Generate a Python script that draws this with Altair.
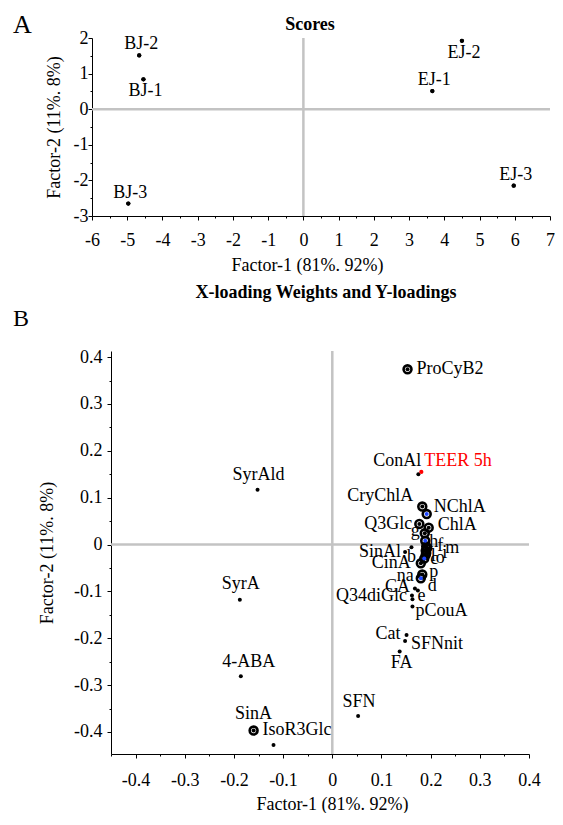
import altair as alt
import pandas as pd

FONT = "Liberation Serif"
BLACK = "#000000"
GREY = "#c3c3c3"
BLUE = "#1e46ff"
RED = "#ff0000"

# ---------------- Panel A : Scores ----------------
score_names = ["BJ-1", "BJ-2", "BJ-3", "EJ-1", "EJ-2", "EJ-3"]
score_f1 = [-4.54, -4.66, -4.97, 3.66, 4.50, 5.97]
score_f2 = [0.84, 1.51, -2.65, 0.51, 1.92, -2.15]
score_side = ["below", "above", "above", "above", "below", "above"]
A_major_x = list(range(-6, 8))
A_major_y = list(range(-3, 3))
A_minor_x = [v + 0.5 for v in range(-6, 7)]
A_minor_y = [v + 0.5 for v in range(-3, 2)]

# ---------------- Panel B : loadings ----------------
load_names = ["ProCyB2", "ConAl", "TEER 5h", "SyrAld", "CryChlA", "NChlA", "Q3Glc",
              "ChlA", "g", "h", "SinAl", "b", "l", "f", "m", "CinA", "c", "o", "i",
              "na", "p", "CA", "d", "Q34diGlc", "e", "pCouA", "Cat", "SFNnit", "FA",
              "SyrA", "4-ABA", "SFN", "SinA", "IsoR3Glc"]
load_f1 = [0.153, 0.175, 0.181, -0.152, 0.183, 0.192, 0.177,
           0.196, 0.188, 0.189, 0.148, 0.161, 0.190, 0.191, 0.193, 0.180, 0.187, 0.190, 0.191,
           0.180, 0.183, 0.168, 0.174, 0.162, 0.163, 0.163, 0.151, 0.148, 0.137,
           -0.188, -0.186, 0.0525, -0.160, -0.1195]
load_f2 = [0.374, 0.150, 0.155, 0.117, 0.081, 0.065, 0.044,
           0.036, 0.024, 0.008, -0.016, -0.006, -0.013, -0.004, -0.008, -0.040, -0.030, -0.022, -0.018,
           -0.072, -0.064, -0.094, -0.098, -0.109, -0.117, -0.132, -0.193, -0.206, -0.228,
           -0.118, -0.281, -0.366, -0.397, -0.428]
load_kind = ["ring", "dot", "red", "dot", "ring", "ringblue", "ring",
             "ring", "ring", "ringblue", "dot", "dot", "ring", "ring", "ring", "ring", "ringblue", "ring", "ring",
             "ringblue", "ring", "dot", "dot", "dot", "dot", "dot", "dot", "dot", "dot",
             "dot", "dot", "dot", "ring", "dot"]
B_major_x = [round(v * 0.1, 1) for v in range(-4, 5)]
B_major_y = [round(v * 0.1, 1) for v in range(-4, 5)]
B_minor_x = [round(v * 0.1 + 0.05, 2) for v in range(-5, 4)]
B_minor_y = [round(v * 0.1 + 0.05, 2) for v in range(-5, 4)]

# label placement styles (align, dx, dy) relative to each point
PLACE_A = {"above": ("center", 2, -11), "below": ("center", 2, 12)}
PLACE_B = {
    "ProCyB2": ("left", 9, 0), "ConAl": ("right", 3, -13), "TEER 5h": ("left", 3, -11),
    "SyrAld": ("center", 1, -15), "CryChlA": ("right", -9, -11), "NChlA": ("left", 7, -7),
    "Q3Glc": ("right", -7, 0), "ChlA": ("left", 9, -3), "g": ("right", -5, -2),
    "h": ("left", 4, 1), "SinAl": ("right", -4, 0), "b": ("center", 0, 10),
    "l": ("left", 5, 5), "f": ("left", 11, 0), "m": ("left", 18, 0),
    "CinA": ("right", -10, 0), "c": ("left", 6, 0), "o": ("left", 10, 3), "i": ("left", 16, 0),
    "na": ("right", -7, -2), "p": ("left", 7, -3), "CA": ("right", -5, -2), "d": ("left", 10, -4),
    "Q34diGlc": ("right", -5, 0), "e": ("left", 5, -3), "pCouA": ("left", 3, 5),
    "Cat": ("right", -6, -1), "SFNnit": ("left", 6, 3), "FA": ("center", 2, 12),
    "SyrA": ("center", 1, -16), "4-ABA": ("center", 8, -14), "SFN": ("center", 1, -14),
    "SinA": ("center", 0, -17), "IsoR3Glc": ("left", -11, -15),
}

LABEL_EXPR = "(datum.value < -0.0001 ? '-' : '') + format(abs(datum.value), '{fmt}')"


def major_axis(values, fmt, title, orient, **kw):
    return alt.Axis(
        values=values, orient=orient, labelExpr=LABEL_EXPR.format(fmt=fmt),
        tickSize=4, tickColor=BLACK, tickWidth=1, domainColor=BLACK, domainWidth=1,
        labelFont=FONT, labelFontSize=18, labelColor=BLACK,
        labelFlush=False, labelOverlap=False, grid=False,
        title=title, titleFont=FONT, titleFontSize=18, titleFontWeight="normal",
        titleColor=BLACK, **kw)


def minor_axis(values, orient, **kw):
    return alt.Axis(values=values, orient=orient, labels=False, domain=False, grid=False,
                    tickSize=2, tickColor=BLACK, tickWidth=1, title=None, **kw)


def text_layer(df, align, dx, dy, color=BLACK):
    return alt.Chart(df).mark_text(
        align=align, baseline="middle", dx=dx, dy=dy, font=FONT, fontSize=18, color=color
    ).encode(x=alt.X("f1:Q", axis=None), y=alt.Y("f2:Q", axis=None), text="name:N")


# ---------------- build panel A ----------------
dfA = pd.DataFrame({"name": score_names, "f1": score_f1, "f2": score_f2, "side": score_side})
xA = alt.Scale(domain=[-6, 7], nice=False, zero=False)
yA = alt.Scale(domain=[-3, 2], nice=False, zero=False)
ruleA = pd.DataFrame({"lo": [-6], "hi": [7], "z": [0]})

layersA = [
    alt.Chart(dfA).mark_circle(size=18, color=BLACK, opacity=1).encode(
        x=alt.X("f1:Q", scale=xA, axis=major_axis(A_major_x, ".0f", "Factor-1 (81%. 92%)", "bottom",
                                                   labelPadding=11, titlePadding=7, titleX=215)),
        y=alt.Y("f2:Q", scale=yA, axis=major_axis(A_major_y, ".0f", "Factor-2 (11%. 8%)", "left",
                                                   labelPadding=0, titlePadding=10))),
    alt.Chart(dfA).mark_point(size=1, opacity=0).encode(
        x=alt.X("f1:Q", axis=minor_axis(A_minor_x, "bottom")),
        y=alt.Y("f2:Q", axis=minor_axis(A_minor_y, "left"))),
    alt.Chart(ruleA).mark_rule(color=GREY, strokeWidth=2.5).encode(x=alt.X("z:Q", axis=None)),
    alt.Chart(ruleA).mark_rule(color=GREY, strokeWidth=2.5).encode(
        x=alt.X("lo:Q", axis=None), x2="hi:Q", y=alt.Y("z:Q", axis=None)),
    alt.Chart(dfA).mark_circle(size=18, color=BLACK, opacity=1).encode(
        x=alt.X("f1:Q", axis=None), y=alt.Y("f2:Q", axis=None)),
]
for side, (al, dx, dy) in PLACE_A.items():
    layersA.append(text_layer(dfA[dfA["side"] == side], al, dx, dy))
layersA.append(alt.Chart(pd.DataFrame({"t": ["A"]})).mark_text(
    align="left", baseline="middle", font=FONT, fontSize=26, color=BLACK
).encode(x=alt.value(-79), y=alt.value(-13), text="t:N"))
layersA.append(alt.Chart(pd.DataFrame({"t": ["Scores"]})).mark_text(
    align="center", baseline="middle", font=FONT, fontSize=18, fontWeight="bold", color=BLACK
).encode(x=alt.value(218), y=alt.value(-13), text="t:N"))
chartA = alt.layer(*layersA).resolve_axis(x="independent", y="independent").properties(
    width=458, height=178)

# ---------------- build panel B ----------------
dfB = pd.DataFrame({"name": load_names, "f1": load_f1, "f2": load_f2, "kind": load_kind})
xB = alt.Scale(domain=[-0.45, 0.4], range=[19, 437], nice=False, zero=False)
yB = alt.Scale(domain=[-0.447, 0.413], nice=False, zero=False)
ruleB = pd.DataFrame({"lo": [-0.45], "hi": [0.4], "z": [0]})

rings = dfB[dfB["kind"].isin(["ring", "ringblue"])]
layersB = [
    alt.Chart(dfB).mark_point(size=1, opacity=0).encode(
        x=alt.X("f1:Q", scale=xB, axis=major_axis(B_major_x, ".1~f", "Factor-1 (81%. 92%)", "bottom",
                                                   labelPadding=13, titlePadding=6, titleX=240)),
        y=alt.Y("f2:Q", scale=yB, axis=major_axis(B_major_y, ".1~f", "Factor-2 (11%. 8%)", "left",
                                                   labelPadding=5, titlePadding=17, offset=-19))),
    alt.Chart(dfB).mark_point(size=1, opacity=0).encode(
        x=alt.X("f1:Q", axis=minor_axis(B_minor_x, "bottom")),
        y=alt.Y("f2:Q", axis=minor_axis(B_minor_y, "left", offset=-19))),
    alt.Chart(ruleB).mark_rule(color=GREY, strokeWidth=2.5).encode(x=alt.X("z:Q", axis=None)),
    alt.Chart(ruleB).mark_rule(color=GREY, strokeWidth=2.5).encode(
        x=alt.X("lo:Q", axis=None), x2="hi:Q", y=alt.Y("z:Q", axis=None)),
    alt.Chart(rings).mark_point(shape="circle", filled=False, size=62, stroke=BLACK,
                                strokeWidth=2.6, opacity=1).encode(
        x=alt.X("f1:Q", axis=None), y=alt.Y("f2:Q", axis=None)),
    alt.Chart(dfB[dfB["kind"].isin(["dot", "ring"])]).mark_circle(size=16, color=BLACK, opacity=1)
    .encode(x=alt.X("f1:Q", axis=None), y=alt.Y("f2:Q", axis=None)),
    alt.Chart(dfB[dfB["kind"] == "ringblue"]).mark_circle(size=16, color=BLUE, opacity=1)
    .encode(x=alt.X("f1:Q", axis=None), y=alt.Y("f2:Q", axis=None)),
    alt.Chart(dfB[dfB["kind"] == "red"]).mark_circle(size=18, color=RED, opacity=1)
    .encode(x=alt.X("f1:Q", axis=None), y=alt.Y("f2:Q", axis=None)),
]
for name in load_names:
    al, dx, dy = PLACE_B[name]
    col = RED if name == "TEER 5h" else BLACK
    layersB.append(text_layer(dfB[dfB["name"] == name], al, dx, dy, col))
layersB.append(alt.Chart(pd.DataFrame({"t": ["B"]})).mark_text(
    align="left", baseline="middle", font=FONT, fontSize=24, color=BLACK
).encode(x=alt.value(-79), y=alt.value(-32), text="t:N"))
layersB.append(alt.Chart(pd.DataFrame({"t": ["X-loading Weights and Y-loadings"]})).mark_text(
    align="center", baseline="middle", font=FONT, fontSize=18, fontWeight="bold", color=BLACK
).encode(x=alt.value(234), y=alt.value(-58), text="t:N"))
chartB = alt.layer(*layersB).resolve_axis(x="independent", y="independent").properties(
    width=437, height=403)

chart = alt.vconcat(chartA, chartB, spacing=10).configure_view(
    stroke=None
).configure_axis(
    labelFont=FONT, titleFont=FONT
).properties(padding={"left": 5, "top": 4, "right": 0, "bottom": 0})

chart.save("out.html", embed_options={"renderer": "svg", "actions": False})
